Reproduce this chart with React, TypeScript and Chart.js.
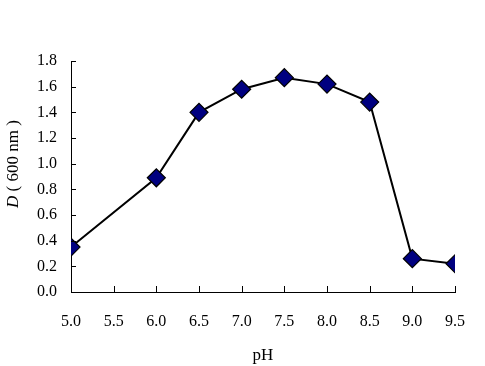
import React, { useEffect, useRef } from "react";
import { Chart, registerables } from "chart.js";

Chart.register(...registerables);

const phValues = [5.0, 6.0, 6.5, 7.0, 7.5, 8.0, 8.5, 9.0, 9.5];
const absorbance = [0.35, 0.89, 1.4, 1.58, 1.67, 1.62, 1.48, 0.26, 0.22];
const xTickLabels = ["5.0", "5.5", "6.0", "6.5", "7.0", "7.5", "8.0", "8.5", "9.0", "9.5"];
const yTickLabels = ["0.0", "0.2", "0.4", "0.6", "0.8", "1.0", "1.2", "1.4", "1.6", "1.8"];
const xTitle = "pH";
const yTitleItalic = "D";
const yTitleRest = " ( 600 nm )";

const FONT = "'Liberation Serif', 'DejaVu Serif', serif";

const innerTicks = {
  id: "innerTicks",
  afterDraw(chart: any) {
    const { ctx, chartArea, scales } = chart;
    ctx.save();
    ctx.strokeStyle = "#000";
    ctx.lineWidth = 1;
    ctx.beginPath();
    scales.y.ticks.forEach((t: any) => {
      const y = Math.round(scales.y.getPixelForValue(t.value)) + 0.5;
      ctx.moveTo(chartArea.left, y);
      ctx.lineTo(chartArea.left + 5, y);
    });
    scales.x.ticks.forEach((t: any) => {
      const x = Math.round(scales.x.getPixelForValue(t.value)) + 0.5;
      ctx.moveTo(x, chartArea.bottom);
      ctx.lineTo(x, chartArea.bottom - 6);
    });
    ctx.stroke();
    // y title
    ctx.translate(14, 164);
    ctx.rotate(-Math.PI / 2);
    ctx.fillStyle = "#000";
    ctx.textBaseline = "middle";
    ctx.font = "italic 17px " + FONT;
    const w1 = ctx.measureText(yTitleItalic).width;
    ctx.font = "17px " + FONT;
    const w2 = ctx.measureText(yTitleRest).width;
    const start = -(w1 + w2) / 2;
    ctx.font = "italic 17px " + FONT;
    ctx.textAlign = "left";
    ctx.fillText(yTitleItalic, start, 0);
    ctx.font = "17px " + FONT;
    ctx.fillText(yTitleRest, start + w1, 0);
    ctx.restore();
  },
};

export default function App() {
  const ref = useRef<HTMLCanvasElement>(null);
  useEffect(() => {
    document.body.style.margin = "0";
    const chart = new Chart(ref.current!, {
      type: "line",
      data: {
        datasets: [
          {
            data: phValues.map((x, i) => ({ x, y: absorbance[i] })),
            borderColor: "#000",
            borderWidth: 2,
            pointStyle: "rectRot",
            pointRadius: 9,
            pointBackgroundColor: "#000080",
            pointBorderColor: "#000",
            pointBorderWidth: 1.2,
            tension: 0,
          },
        ],
      },
      options: {
        animation: false,
        responsive: false,
        layout: { padding: { top: 61, right: 30, left: 0, bottom: 0 } },
        plugins: { legend: { display: false }, tooltip: { enabled: false } },
        scales: {
          x: {
            type: "linear",
            min: 5,
            max: 9.5,
            afterBuildTicks: (s: any) => {
              s.ticks = xTickLabels.map((l) => ({ value: parseFloat(l) }));
            },
            afterFit: (s: any) => {
              s.height = 74;
            },
            grid: { display: false, drawTicks: false },
            border: { display: true, color: "#000", width: 1 },
            ticks: {
              padding: 20,
              color: "#000",
              font: { family: FONT, size: 16 },
              maxRotation: 0,
              autoSkip: false,
              callback: (v: any, i: number) => xTickLabels[i],
            },
            title: {
              display: true,
              text: xTitle,
              color: "#000",
              font: { family: FONT, size: 17 },
              padding: { top: 2, bottom: 0 },
            },
          },
          y: {
            min: 0,
            max: 1.8,
            afterBuildTicks: (s: any) => {
              s.ticks = yTickLabels.map((l) => ({ value: parseFloat(l) }));
            },
            afterFit: (s: any) => {
              s.width = 71;
            },
            grid: { display: false, drawTicks: false },
            border: { display: true, color: "#000", width: 1 },
            ticks: {
              padding: 14,
              color: "#000",
              font: { family: FONT, size: 16 },
              autoSkip: false,
              callback: (v: any, i: number) => yTickLabels[i],
            },
          },
        },
      },
      plugins: [innerTicks],
    });
    return () => chart.destroy();
  }, []);
  return <canvas ref={ref} width={485} height={366} style={{ display: "block" }} />;
}
